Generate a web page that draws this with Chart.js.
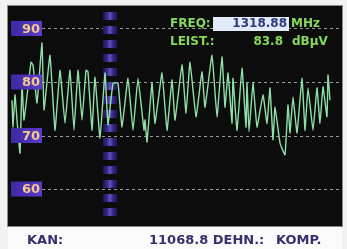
<!DOCTYPE html>
<html lang="de">
<head>
<meta charset="UTF-8">
<title>Spektrum</title>
<script src="https://cdn.jsdelivr.net/npm/chart.js"></script>
<style>
    html, body { margin: 0; padding: 0; background: #f2f2f2; }
    #wrap { width: 347px; height: 249px; }
</style>
</head>
<body>
<div id="wrap"><canvas id="spektrum"></canvas></div>
<script>
// trace: sample position across the screen and level in dBµV
var samples = [4, 5, 7, 9, 12, 14, 16, 23, 25, 29, 34, 36, 42, 47, 52, 57, 62, 66, 70, 74,
    78, 80, 84, 87, 92, 97, 100, 105, 110, 114, 120, 125, 130, 136, 137, 139, 144, 147, 154, 159,
    164, 167, 174, 178, 182, 188, 194, 197, 204, 209, 214, 217, 220, 224, 225, 229, 234, 238, 239, 241,
    245, 249, 255, 259, 262, 265, 267, 272, 277, 280, 282, 285, 289, 294, 297, 300, 305, 309, 312, 315,
    319, 320, 322];
var levels = [76.6, 71.6, 77.6, 72.9, 66.7, 79.8, 72.9, 83.7, 83.2, 76.1, 87.3, 74.8, 85.0, 71.0, 82.2, 72.3, 82.2, 71.0, 82.2, 72.9,
    82.2, 81.9, 71.0, 80.9, 69.5, 81.7, 72.0, 79.8, 79.8, 71.6, 80.7, 71.0, 80.7, 71.0, 72.9, 68.8, 79.8, 72.3, 81.7, 71.0,
    80.4, 72.9, 83.2, 74.2, 83.7, 73.5, 81.9, 75.3, 85.0, 73.5, 84.7, 75.3, 81.7, 72.3, 80.7, 71.0, 82.6, 71.6, 79.8, 70.7,
    79.8, 71.6, 77.6, 72.3, 78.9, 69.2, 75.3, 68.6, 66.4, 75.7, 70.5, 77.2, 70.5, 80.7, 71.0, 78.9, 71.0, 78.9, 72.3, 79.1,
    73.5, 81.3, 76.6];

var gridLevels = [90, 80, 70, 60];
var markerSample = 102;

var freq = '1318.88';
var leist = '83.8';
var kan = '11068.8';

var FONT = '"DejaVu Sans", Verdana, sans-serif';

var screenPlugin = {
    id: 'screen',
    beforeDraw: function (chart) {
        var c = chart.ctx, a = chart.chartArea;
        var y = chart.scales.y, x = chart.scales.x;
        c.save();
        // black screen
        c.fillStyle = '#0c0c0c';
        c.fillRect(a.left, a.top, a.right - a.left, a.bottom - a.top);
        c.strokeStyle = '#8a8a8a';
        c.lineWidth = 1;
        c.strokeRect(a.left - 0.5, a.top - 0.5, a.right - a.left + 1, a.bottom - a.top + 1);

        // dashed grid
        c.strokeStyle = '#9c9c9c';
        c.setLineDash([3, 3]);
        gridLevels.forEach(function (v) {
            var py = Math.round(y.getPixelForValue(v)) + 0.5;
            c.beginPath();
            c.moveTo(a.left + 34, py);
            c.lineTo(a.right, py);
            c.stroke();
        });
        c.setLineDash([]);

        // marker column
        var mx = x.getPixelForValue(markerSample);
        var g = c.createLinearGradient(mx - 7, 0, mx + 7, 0);
        g.addColorStop(0, '#1c1650');
        g.addColorStop(0.3, '#34288a');
        g.addColorStop(0.5, '#6255b4');
        g.addColorStop(0.7, '#34288a');
        g.addColorStop(1, '#1c1650');
        c.fillStyle = g;
        for (var by = a.top + 6; by < a.bottom - 4; by += 14) {
            c.fillRect(mx - 7, by, 14, 8);
        }
        c.restore();
    },
    afterDraw: function (chart) {
        var c = chart.ctx, a = chart.chartArea;
        var y = chart.scales.y;
        var H = chart.height;
        c.save();

        // level labels
        gridLevels.forEach(function (v) {
            var py = y.getPixelForValue(v);
            var bg = c.createLinearGradient(a.left + 2, 0, a.left + 34, 0);
            bg.addColorStop(0, '#3b28a0');
            bg.addColorStop(1, '#5a3ccc');
            c.fillStyle = bg;
            c.fillRect(a.left + 3, py - 7.5, 31, 15);
            c.fillStyle = '#f4c98a';
            c.font = 'bold 13px ' + FONT;
            c.textAlign = 'right';
            c.textBaseline = 'middle';
            c.fillText(String(v), a.left + 32, py + 1);
        });

        // readout
        c.font = 'bold 12px ' + FONT;
        c.textBaseline = 'middle';
        c.textAlign = 'left';
        c.fillStyle = '#86d95c';
        c.fillText('FREQ:', 170, 24);
        c.fillText('LEIST.:', 170, 42);
        c.fillStyle = '#e2ecf8';
        c.fillRect(213, 17, 76, 14);
        c.fillStyle = '#2c3a78';
        c.textAlign = 'right';
        c.fillText(freq, 287, 24);
        c.fillStyle = '#86d95c';
        c.fillText(leist, 283, 42);
        c.textAlign = 'left';
        c.fillText('MHz', 291, 24);
        c.fillText('dBµV', 292, 42);

        // bottom bar
        c.fillStyle = '#fbfbfb';
        c.fillRect(a.left, a.bottom + 1, a.right - a.left, H - a.bottom - 1);
        c.fillStyle = '#36306e';
        c.font = 'bold 13px ' + FONT;
        c.textAlign = 'left';
        c.fillText('KAN:', 27, 241);
        c.fillText(kan + ' DEHN.:', 149, 241);
        c.fillText('KOMP.', 276, 241);
        c.restore();
    }
};

new Chart(document.getElementById('spektrum'), {
    type: 'line',
    data: {
        datasets: [{
            data: samples.map(function (s, i) { return { x: s, y: levels[i] }; }),
            borderColor: '#8fe0a6',
            borderWidth: 1.4,
            pointRadius: 0,
            tension: 0.1,
            fill: false
        }]
    },
    options: {
        responsive: true,
        maintainAspectRatio: false,
        animation: false,
        layout: { padding: { left: 8, right: 5, top: 6, bottom: 23 } },
        plugins: { legend: { display: false }, tooltip: { enabled: false } },
        scales: {
            x: { type: 'linear', min: 0, max: 334, display: false },
            y: { min: 53.1, max: 94.2, display: false }
        }
    },
    plugins: [screenPlugin]
});
</script>
</body>
</html>
